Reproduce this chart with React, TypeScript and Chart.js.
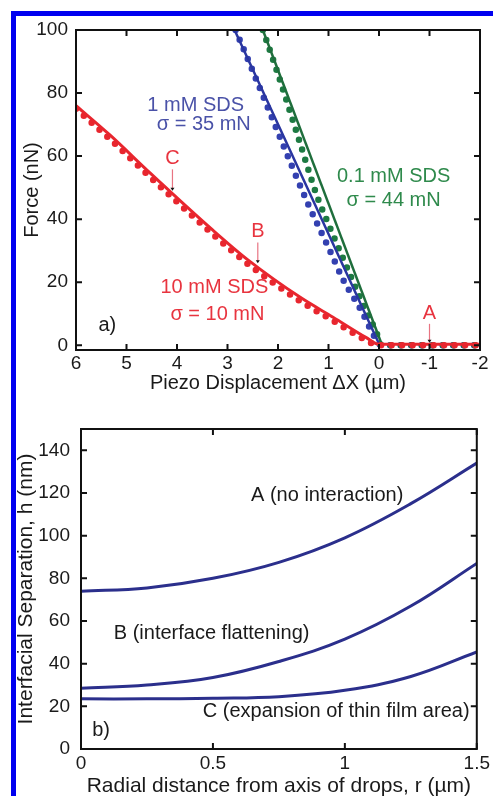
import React, { useEffect, useRef } from "react";
import { Chart, registerables } from "chart.js";

Chart.register(...registerables);

const FONT = '"Liberation Sans", Arial, Helvetica, sans-serif';

// ---------- Panel a) : Force vs piezo displacement ----------
const xTicksA = [6, 5, 4, 3, 2, 1, 0, -1, -2];
const yTicksA = [0, 20, 40, 60, 80, 100];

const redLineX = [6, 5.33, 4.53, 3.29, 2.59, 1.56, 0.91, 0.26, 0, -2];
const redLineF = [76, 66.7, 54.6, 36.5, 27, 15.2, 8.9, 2.5, 0.3, 0.3];
const redDotX = [6, 5.33, 4.53, 3.29, 2.59, 1.56, 0.91, 0.26, 0, -2];
const redDotF = [75, 65.4, 53.3, 35.2, 25.7, 14, 7.8, 1.6, 0, 0];

const blueLineX = [2.86, 0];
const blueLineF = [100, 0.5];
const blueDotX = [2.84, 2.5, 2.0, 1.41, 1.0, 0.7, 0.35, 0.1, -0.05, -2];
const blueDotF = [100, 87, 67.5, 45, 31, 20.5, 11, 3, 0, 0];

const greenLineX = [2.3, -0.05];
const greenLineF = [100, 0.5];
const greenDotX = [2.3, 2.0, 1.6, 1.22, 0.99, 0.59, 0.29, 0.05, -0.05, -2];
const greenDotF = [100, 86, 66, 47, 38, 23, 12, 4, 0, 0];

// ---------- Panel b) : film profiles ----------
const xTicksB = [0, 0.5, 1, 1.5];
const yTicksB = [0, 20, 40, 60, 80, 100, 120, 140];
const rVals = [0, 0.25, 0.5, 0.75, 1.0, 1.25, 1.5];
const hA = [74, 75.5, 80, 87.5, 99, 115, 134];
const hB = [28.5, 30, 33.5, 41, 51.5, 67, 87];
const hC = [23.5, 23.5, 23.8, 24.5, 27.5, 34, 45.5];

const RED = "#e8262e";
const BLUE = "#3340b0";
const GREEN = "#1f6e3c";
const CURVE = "#2b2f8c";
const INK = "#1a1a1a";

const pts = (xs: number[], ys: number[]) => xs.map((x, i) => ({ x, y: ys[i] }));

type Ann = { text: string; x: number; y: number; color: string };
type Arrow = { x: number; y0: number; y1: number };

const framePlugin = {
  id: "frame",
  afterDraw(chart: any) {
    const { ctx, chartArea: a, scales } = chart;
    ctx.save();
    ctx.strokeStyle = "#111";
    ctx.lineWidth = 2;
    ctx.strokeRect(a.left, a.top, a.right - a.left, a.bottom - a.top);
    const L = 6;
    ctx.beginPath();
    scales.x.ticks.forEach((t: any) => {
      const px = scales.x.getPixelForValue(t.value);
      ctx.moveTo(px, a.bottom);
      ctx.lineTo(px, a.bottom - L);
      ctx.moveTo(px, a.top);
      ctx.lineTo(px, a.top + L);
    });
    scales.y.ticks.forEach((t: any) => {
      const py = scales.y.getPixelForValue(t.value);
      ctx.moveTo(a.left, py);
      ctx.lineTo(a.left + L, py);
      ctx.moveTo(a.right, py);
      ctx.lineTo(a.right - L, py);
    });
    ctx.stroke();
    ctx.restore();
  },
};

const makeAnnPlugin = (anns: Ann[], arrows: Arrow[]) => ({
  id: "anns",
  afterDatasetsDraw(chart: any) {
    const { ctx, scales } = chart;
    ctx.save();
    ctx.font = `20px ${FONT}`;
    ctx.textAlign = "center";
    ctx.textBaseline = "middle";
    anns.forEach((a) => {
      ctx.fillStyle = a.color;
      ctx.fillText(a.text, scales.x.getPixelForValue(a.x), scales.y.getPixelForValue(a.y));
    });
    arrows.forEach((ar) => {
      const px = scales.x.getPixelForValue(ar.x);
      const p0 = scales.y.getPixelForValue(ar.y0);
      const p1 = scales.y.getPixelForValue(ar.y1);
      ctx.strokeStyle = "#e87482";
      ctx.lineWidth = 1.2;
      ctx.beginPath();
      ctx.moveTo(px, p0);
      ctx.lineTo(px, p1 - 2);
      ctx.stroke();
      ctx.fillStyle = "#111";
      ctx.beginPath();
      ctx.moveTo(px - 2, p1 - 3);
      ctx.lineTo(px + 2, p1 - 3);
      ctx.lineTo(px, p1);
      ctx.closePath();
      ctx.fill();
    });
    ctx.restore();
  },
});

const tickFont = { family: FONT, size: 19 };
const titleFont = { family: FONT, size: 20, lineHeight: 0.8 };
const titleFontB = { family: FONT, size: 21, lineHeight: 0.8 };

function topConfig(): any {
  const dots = (data: any, color: string) => ({
    data,
    borderColor: color,
    borderWidth: 6.5,
    borderDash: [0, 10.5],
    borderCapStyle: "round",
    pointRadius: 0,
    cubicInterpolationMode: "monotone",
  });
  const line = (data: any, color: string, w: number) => ({
    data,
    borderColor: color,
    borderWidth: w,
    pointRadius: 0,
    cubicInterpolationMode: "monotone",
  });
  return {
    type: "line",
    data: {
      datasets: [
        line(pts(redLineX, redLineF), RED, 3),
        dots(pts(redDotX, redDotF), RED),
        line(pts(greenLineX, greenLineF), GREEN, 2.5),
        line(pts(blueLineX, blueLineF), "#2a36a0", 2.5),
        dots(pts(greenDotX, greenDotF), "#1d7a42"),
        dots(pts(blueDotX, blueDotF), BLUE),
      ],
    },
    options: {
      responsive: false,
      animation: false,
      events: [],
      layout: { padding: { left: 0, right: 13, top: 30, bottom: 0 } },
      plugins: { legend: { display: false }, tooltip: { enabled: false } },
      scales: {
        x: {
          type: "linear",
          reverse: true,
          min: -2,
          max: 6,
          afterBuildTicks: (s: any) => {
            s.ticks = xTicksA.map((v) => ({ value: v }));
          },
          afterFit: (s: any) => {
            s.height = 50;
          },
          grid: { display: false, drawTicks: false },
          border: { display: false },
          ticks: { font: tickFont, color: INK, padding: 2, autoSkip: false, maxRotation: 0, callback: (v: any) => String(v) },
          title: { display: true, text: "Piezo Displacement ΔX (µm)", font: titleFont, color: INK, padding: { top: 0, bottom: 9 } },
        },
        y: {
          type: "linear",
          min: -1.5,
          max: 100,
          afterBuildTicks: (s: any) => {
            s.ticks = yTicksA.map((v) => ({ value: v }));
          },
          afterFit: (s: any) => {
            s.width = 76;
          },
          grid: { display: false, drawTicks: false },
          border: { display: false },
          ticks: { font: tickFont, color: INK, padding: 8, callback: (v: any) => String(v) },
          title: { display: true, text: "Force (nN)", font: titleFont, color: INK, padding: { top: 24.5, bottom: 0 } },
        },
      },
    },
    plugins: [
      framePlugin,
      makeAnnPlugin(
        [
          { text: "1 mM SDS", x: 3.63, y: 76, color: "#4a52a8" },
          { text: "σ = 35 mN", x: 3.47, y: 70, color: "#4a52a8" },
          { text: "0.1 mM SDS", x: -0.29, y: 53.6, color: "#2f8a4c" },
          { text: "σ = 44 mN", x: -0.29, y: 46, color: "#2f8a4c" },
          { text: "C", x: 4.09, y: 59.4, color: "#e8343f" },
          { text: "B", x: 2.4, y: 36, color: "#e8343f" },
          { text: "10 mM SDS", x: 3.26, y: 18.4, color: "#e8343f" },
          { text: "σ = 10 mN", x: 3.2, y: 9.8, color: "#e8343f" },
          { text: "A", x: -1.0, y: 10, color: "#e8343f" },
          { text: "a)", x: 5.38, y: 6.3, color: INK },
        ],
        [
          { x: 4.09, y0: 55.8, y1: 49 },
          { x: 2.4, y0: 32.6, y1: 26 },
          { x: -1.0, y0: 6.8, y1: 0.8 },
        ]
      ),
    ],
  };
}

function bottomConfig(): any {
  const curve = (ys: number[]) => ({
    data: pts(rVals, ys),
    borderColor: CURVE,
    borderWidth: 3,
    pointRadius: 0,
    tension: 0.4,
  });
  return {
    type: "line",
    data: { datasets: [curve(hA), curve(hB), curve(hC)] },
    options: {
      responsive: false,
      animation: false,
      events: [],
      layout: { padding: { left: 0, right: 15, top: 29, bottom: 0 } },
      plugins: { legend: { display: false }, tooltip: { enabled: false } },
      scales: {
        x: {
          type: "linear",
          min: 0,
          max: 1.5,
          afterBuildTicks: (s: any) => {
            s.ticks = xTicksB.map((v) => ({ value: v }));
          },
          afterFit: (s: any) => {
            s.height = 47;
          },
          grid: { display: false, drawTicks: false },
          border: { display: false },
          ticks: { font: tickFont, color: INK, padding: 3, autoSkip: false, maxRotation: 0, callback: (v: any) => String(v) },
          title: { display: true, text: "Radial distance from axis of drops, r (µm)", font: titleFontB, color: INK, padding: { top: 0, bottom: 1 } },
        },
        y: {
          type: "linear",
          min: 0,
          max: 150,
          afterBuildTicks: (s: any) => {
            s.ticks = yTicksB.map((v) => ({ value: v }));
          },
          afterFit: (s: any) => {
            s.width = 81;
          },
          grid: { display: false, drawTicks: false },
          border: { display: false },
          ticks: { font: tickFont, color: INK, padding: 11, callback: (v: any) => String(v) },
          title: { display: true, text: "Interfacial Separation, h (nm)", font: titleFontB, color: INK, padding: { top: 18, bottom: 0 } },
        },
      },
    },
    plugins: [
      framePlugin,
      makeAnnPlugin(
        [
          { text: "A (no interaction)", x: 0.933, y: 119, color: INK },
          { text: "B (interface flattening)", x: 0.495, y: 54, color: INK },
          { text: "C (expansion of thin film area)", x: 0.967, y: 17.8, color: INK },
          { text: "b)", x: 0.076, y: 8.5, color: INK },
        ],
        []
      ),
    ],
  };
}

export default function App() {
  const topRef = useRef<HTMLCanvasElement>(null);
  const botRef = useRef<HTMLCanvasElement>(null);
  useEffect(() => {
    const c1 = new Chart(topRef.current as HTMLCanvasElement, topConfig());
    const c2 = new Chart(botRef.current as HTMLCanvasElement, bottomConfig());
    return () => {
      c1.destroy();
      c2.destroy();
    };
  }, []);
  return (
    <div style={{ position: "fixed", left: 0, top: 0, width: 493, height: 796, background: "#fff", overflow: "hidden" }}>
      <div
        style={{
          position: "absolute",
          left: 11,
          top: 11,
          width: 700,
          height: 1000,
          borderTop: "5px solid #0000f0",
          borderLeft: "5px solid #0000f0",
        }}
      />
      <canvas ref={topRef} width={493} height={400} style={{ position: "absolute", left: 0, top: 0, width: 493, height: 400 }} />
      <canvas ref={botRef} width={493} height={396} style={{ position: "absolute", left: 0, top: 400, width: 493, height: 396 }} />
    </div>
  );
}
